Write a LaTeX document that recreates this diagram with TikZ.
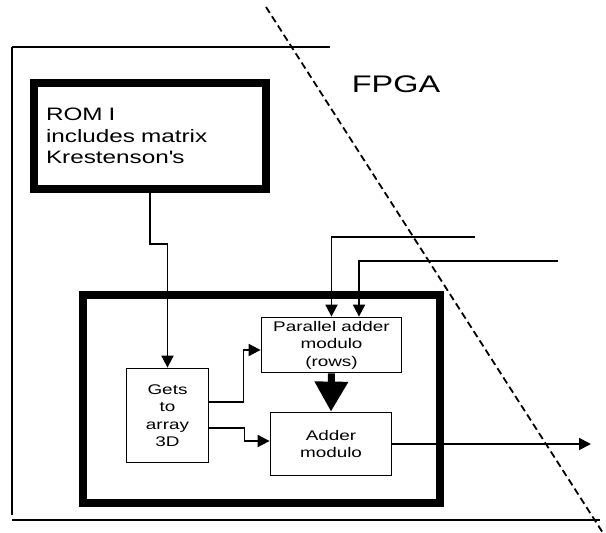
\documentclass[tikz,border=0pt]{standalone}
\usepackage{fontspec}
\setmainfont{Liberation Sans}
\newfontfamily\widefont[FakeStretch=1.35]{Liberation Sans}
\usetikzlibrary{arrows.meta}
\usetikzlibrary{positioning}

\begin{document}
\begin{tikzpicture}[x=1pt,y=-1pt,
  wire/.style={line width=1.8pt},
  arr/.style={wire,-{Triangle[width=12pt,length=12pt]}},
  heavy/.style={draw,line width=8.5pt},
  block/.style={draw,line width=1.8pt,align=center,inner sep=0pt,font=\widefont\fontsize{14}{17.5}\selectfont}]
\useasboundingbox (0,0) rectangle (606,533);
\draw[wire] (12,47) -- (330,47);
\draw[wire] (12,47) -- (12,515);
\draw[wire] (12,520) -- (600,520);
\draw[wire,dash pattern=on 7pt off 4pt] (266,7) -- (603,533);
\node[font=\widefont\fontsize{24}{28}\selectfont] (fpga) at (396,84) {FPGA};

\node[heavy,minimum width=232pt,minimum height=106pt,text width=208pt,inner xsep=12pt,align=left,font=\widefont\fontsize{18}{21.5}\selectfont] (rom) at (150,136) {ROM I\\includes matrix\\Krestenson\textquotesingle s};
\node[heavy,minimum width=357pt,minimum height=208pt] (core) at (261.5,399) {};
\node[block,minimum width=82pt,minimum height=94pt] (gets) at (167.5,415.5) {Gets\\to\\array\\3D};
\node[block,minimum width=140pt,minimum height=55pt] (par) at (331.5,345) {Parallel adder\\modulo\\(rows)};
\node[block,minimum width=121pt,minimum height=63pt] (add) at (331,444) {Adder\\modulo};

\coordinate (romstep) at (150,244);
\coordinate (inA) at (475,237);
\coordinate (inB) at (558,261);
\coordinate (out) at (591,444);
\draw[arr] (rom.south) -- (romstep) -| (gets.north);
\draw[arr] (inA) -| (par.north);
\draw[arr] (inB) -| ([xshift=27.5pt]par.north);
\draw[arr] ([yshift=13.5pt]gets.east) -- ++(34,0) |- ([yshift=-5pt]par.west);
\draw[arr] ([yshift=-12.5pt]gets.east) -- ++(35,0) |- ([yshift=3pt]add.west);
\draw[line width=7pt,-{Triangle[width=32pt,length=30pt]}] (par.south) -- (add.north);
\draw[arr] (add.east) -- (out);
\end{tikzpicture}
\end{document}
